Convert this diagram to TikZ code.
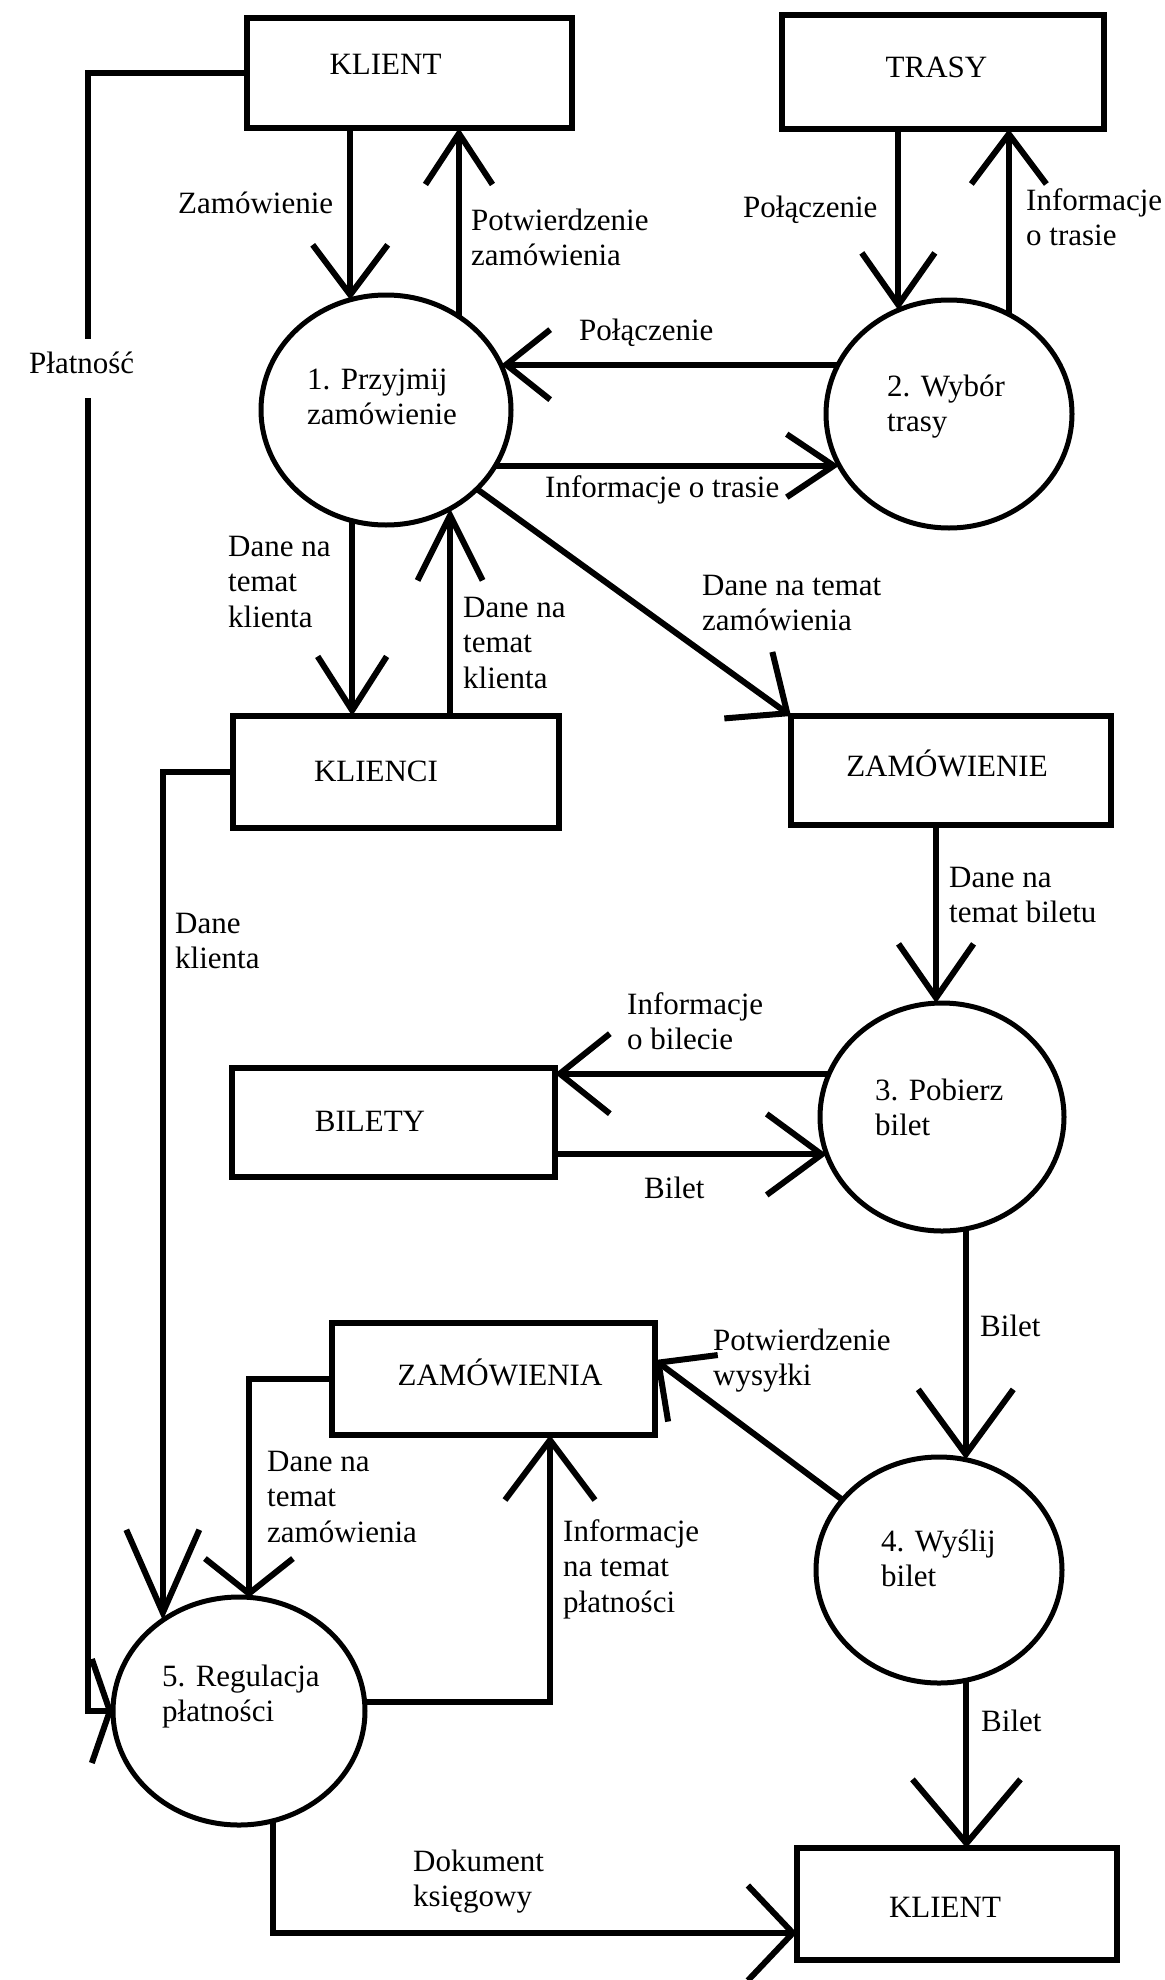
\documentclass[tikz,border=0pt]{standalone}
\usepackage{fontspec}
\setmainfont{Liberation Serif}
\usetikzlibrary{arrows.meta,shapes.geometric,calc}
\begin{document}
\begin{tikzpicture}[x=1pt,y=-1pt,
  box/.style={draw,line width=6pt,rectangle,inner sep=0pt,outer sep=0pt},
  proc/.style={draw,line width=5pt,ellipse,inner sep=0pt,outer sep=0pt},
  lbl/.style={font=\fontsize{31}{35.5}\selectfont,align=left,anchor=base west,inner sep=0pt},
  btxt/.style={font=\fontsize{31}{35.5}\selectfont,anchor=base,inner sep=0pt},
  flow/.style={line width=6pt},
  arr/.style 2 args={flow,-{Straight Barb[length=#1,width=#2]}},
]
\fill[white] (0,0) rectangle (1164,1980);
\useasboundingbox (0,0) rectangle (1164,1980);

% stores / externals
\node[box,minimum width=325pt,minimum height=110pt] (k1) at (409.5,73) {};
\node[box,minimum width=322pt,minimum height=114pt] (trasy) at (943,72) {};
\node[box,minimum width=326pt,minimum height=112pt] (klienci) at (396,772) {};
\node[box,minimum width=320pt,minimum height=109pt] (zamowienie) at (951,770.5) {};
\node[box,minimum width=323pt,minimum height=109pt] (bilety) at (393.5,1122.5) {};
\node[box,minimum width=323pt,minimum height=112pt] (zamowienia) at (493.5,1379) {};
\node[box,minimum width=320pt,minimum height=112pt] (klient2) at (957,1904) {};

% processes
\node[proc,minimum width=250pt,minimum height=230pt] (p1) at (386,410) {};
\node[proc,minimum width=246pt,minimum height=228pt] (p2) at (949,414) {};
\node[proc,minimum width=244pt,minimum height=228pt] (p3) at (942,1117) {};
\node[proc,minimum width=246pt,minimum height=226pt] (p4) at (939,1570) {};
\node[proc,minimum width=252pt,minimum height=228pt] (p5) at (239,1711) {};

% connectors
\draw[arr={50pt}{75pt}] (k1.south -| p1.108) -- (p1.108);
\draw[arr={51pt}{67pt}] (p1.52) -- (p1.52 |- k1.south);
\draw[arr={44pt}{70pt}] (p2.156) -- (p1.21 |- p2.156);
\draw[arr={47pt}{63pt}] (p1.333) -- (p1.333 -| p2.205);
\draw[arr={52pt}{73pt}] (trasy.south -| p2.116) -- (p2.116);
\draw[arr={50pt}{75pt}] (p2.59) -- (p2.59 |- trasy.south);
\draw[arr={54pt}{69pt}] (p1.253) -- (p1.253 |- klienci.north);
\draw[arr={65pt}{65pt}] (klienci.north -| p1.303) -- (p1.303);
\draw[arr={48pt}{82pt}] (p1.319) -- (zamowienie.north west);
\draw[arr={54pt}{75pt}] (zamowienie.south -| p3.93) -- (p3.93);
\draw[arr={83pt}{73pt}] (klienci.west) -| (p5.130);
\draw[arr={50pt}{80pt}] (p3.159) -- (p3.159 -| bilety.east);
\draw[arr={55pt}{81pt}] (bilety.east |- p3.198) -- (p3.198);
\draw[arr={65pt}{95pt}] (p3.282) -- (p3.282 |- p4.77);
\draw[arr={43pt}{83pt}] (p4.144) -- ([yshift=19pt]zamowienia.east);
\draw[arr={35pt}{88pt}] (zamowienia.west) -| (p5.85);
\draw[arr={60pt}{90pt}] (p5.4) -| ([xshift=56.5pt]zamowienia.south);
\draw[arr={18pt}{104pt}] (k1.west) -| ([xshift=-25pt]p5.west) -- (p5.west);
\draw[arr={64pt}{108pt}] (p4.284) -- (p4.284 |- klient2.north);
\draw[arr={45pt}{95pt}] (p5.287) |- ([yshift=-29pt]klient2.west);

% box texts
\node[btxt] (tk1) at (385.5,75) {KLIENT};
\node[btxt] (ttr) at (936.5,78) {TRASY};
\node[btxt] (tkl) at (376,781) {KLIENCI};
\node[btxt] (tzam) at (947,776) {ZAMÓWIENIE};
\node[btxt] (tbil) at (370,1131) {BILETY};
\node[btxt] (tzams) at (500,1385) {ZAMÓWIENIA};
\node[btxt] (tk2) at (945,1917) {KLIENT};

% process texts (anchor = baseline of last line)
\node[lbl] (tp1) at (307,424.5) {1. Przyjmij\\zamówienie};
\node[lbl] (tp2) at (887,431.5) {2. Wybór\\trasy};
\node[lbl] (tp3) at (875,1135.5) {3. Pobierz\\bilet};
\node[lbl] (tp4) at (881,1586.5) {4. Wyślij\\bilet};
\node[lbl] (tp5) at (162,1721.5) {5. Regulacja\\płatności};

% flow labels
\node[lbl,fill=white,inner ysep=12pt,text depth=13pt] (lplat) at (29,373) {Płatność};
\node[lbl] (l1) at (178,213) {Zamówienie};
\node[lbl] (l2) at (471,265.5) {Potwierdzenie\\zamówienia};
\node[lbl] (l3) at (743,217) {Połączenie};
\node[lbl] (l4) at (1026,245.5) {Informacje\\o trasie};
\node[lbl] (l5) at (579,340) {Połączenie};
\node[lbl] (l6) at (545,497) {Informacje o trasie};
\node[lbl] (l7) at (228,627) {Dane na\\temat\\klienta};
\node[lbl] (l8) at (463,688) {Dane na\\temat\\klienta};
\node[lbl] (l9) at (702,630.5) {Dane na temat\\zamówienia};
\node[lbl] (l10) at (949,922.5) {Dane na\\temat biletu};
\node[lbl] (l11) at (175,968.5) {Dane\\klienta};
\node[lbl] (l12) at (627,1049.5) {Informacje\\o bilecie};
\node[lbl] (l13) at (644,1198) {Bilet};
\node[lbl] (l14) at (980,1336) {Bilet};
\node[lbl] (l15) at (713,1385.5) {Potwierdzenie\\wysyłki};
\node[lbl] (l16) at (267,1542) {Dane na\\temat\\zamówienia};
\node[lbl] (l17) at (563,1612) {Informacje\\na temat\\płatności};
\node[lbl] (l18) at (981,1731) {Bilet};
\node[lbl] (l19) at (413,1906.5) {Dokument\\księgowy};
\end{tikzpicture}
\end{document}
